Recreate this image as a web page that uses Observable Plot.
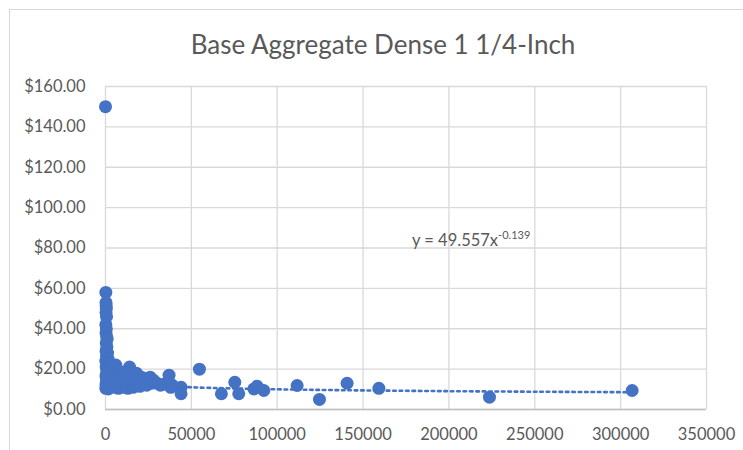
<!DOCTYPE html>
<html>
<head>
<meta charset="utf-8">
<script src="https://cdn.jsdelivr.net/npm/d3@7"></script>
<script src="https://cdn.jsdelivr.net/npm/@observablehq/plot@0.6"></script>
<style>
  html, body { margin: 0; padding: 0; background: #fff; }
  #wrap { position: relative; width: 743px; height: 450px; overflow: hidden; font-family: Lato, "Open Sans", sans-serif; }
  #frame { position: absolute; left: 9px; top: 9px; width: 745px; height: 470px; border: 1.5px solid #d9d9d9; box-sizing: border-box; }
  #title { position: absolute; left: 0; width: 766px; top: 28px; text-align: center; font-size: 26px; color: #595959; line-height: 32px; }
  #chart { position: absolute; left: 0; top: 0; }
</style>
</head>
<body>
<div id="wrap">
  <div id="frame"></div>
  <div id="chart"></div>
  <div id="title">Base Aggregate Dense 1 1/4-Inch</div>
</div>
<script>
const title = "Base Aggregate Dense 1 1/4-Inch";
// quantity (x) and unit price (y)
const quantity = [
  0, 200, 300, 400, 500, 300, 600, 200, 500, 300, 700, 1000, 400, 800, 300, 1200, 600, 1500, 200, 900,
  1800, 400, 1100, 2000, 700, 1500, 300, 2200, 1000, 600, 1700, 300, 1300, 2400, 800, 200, 1600,
  3000, 3500, 4000, 4500, 5000, 5500, 6000, 6500, 7000, 7500, 8000, 8500, 9000, 9500, 10000, 10500, 11000,
  12000, 12500, 13000, 14000, 14500, 15000, 15500, 16000, 17000, 17500, 18000, 19000, 20000, 21000, 22000,
  23000, 24000, 25000, 26000, 27000, 28000, 30000, 32000, 34000, 36000, 37000, 38000, 39000, 44000, 44000,
  54700, 67500, 75300, 77600, 86400, 88300, 92200, 111600, 124600, 140700, 159200, 223600, 306700
];
const price = [
  150, 58, 53, 51.5, 50, 48, 46, 42, 40, 38, 36, 35, 33, 31, 29, 28, 26.5, 25, 24, 23,
  22.5, 21, 20, 19.5, 18.5, 17.5, 16.5, 16, 15, 14, 13.5, 12.5, 12, 11.5, 11, 10.5, 10.2,
  14, 18, 12, 20, 16, 11, 22, 13, 17, 10.5, 19, 14.5, 12, 16, 11, 18, 14,
  12.5, 16.5, 10.5, 21, 19, 13, 17, 11, 15, 12, 18, 14, 11.5, 16, 13,
  15, 12, 14, 16, 13, 14.5, 13, 12, 12.5, 13, 17, 11, 12, 11, 7.8,
  20, 7.8, 13.5, 7.8, 10.2, 11.5, 9.4, 11.9, 5, 13, 10.5, 6.1, 9.4
];
const xTicks = [0, 50000, 100000, 150000, 200000, 250000, 300000, 350000];
const yTicks = [0, 20, 40, 60, 80, 100, 120, 140, 160];
// power trendline shown on chart: y = 49.557 x^-0.139
const trendA = 49.557, trendB = -0.139;
const trendXs = [500, 1000, 2000, 5000, 10000, 20000, 50000, 100000, 150000, 200000, 250000, 306700];

const points = quantity.map((q, i) => ({q, p: price[i]}));
const trend = trendXs.map(q => ({q, p: trendA * Math.pow(q, trendB)}));

const gray = "#595959";
const fnt = "Lato, 'Open Sans', sans-serif";
const chart = Plot.plot({
  width: 743,
  height: 450,
  marginLeft: 105,
  marginRight: 37,
  marginTop: 86,
  marginBottom: 41,
  style: {fontFamily: fnt, fontSize: "16.5px", color: gray, background: "transparent"},
  x: {domain: [0, 350000], ticks: xTicks, tickFormat: d => String(d), label: null},
  y: {domain: [0, 160], ticks: yTicks, tickFormat: d => "$" + d3.format(".2f")(d), label: null},
  marks: [
    Plot.gridX(xTicks, {stroke: "#d9d9d9", strokeOpacity: 1, strokeWidth: 1.3}),
    Plot.gridY(yTicks, {stroke: "#d9d9d9", strokeOpacity: 1, strokeWidth: 1.3}),
    Plot.ruleY([0], {stroke: "#bfbfbf", strokeWidth: 1.5}),
    Plot.axisX({ticks: xTicks, tickSize: 0, tickPadding: 19, tickFormat: d => String(d), fill: gray, fontSize: 16.5}),
    Plot.axisY({ticks: yTicks, tickSize: 0, tickPadding: 20, tickFormat: d => "$" + d3.format(".2f")(d), fill: gray, fontSize: 16.5}),
    Plot.dot(points, {x: "q", y: "p", r: 6.5, fill: "#4472c4", stroke: "none"}),
    Plot.line(trend, {x: "q", y: "p", curve: "natural", stroke: "#4472c4", strokeWidth: 2.6, strokeDasharray: "2.6,3.8"})
  ]
});
document.getElementById("chart").appendChild(chart);

// trendline label with superscript exponent
const svg = d3.select(chart);
const lbl = svg.append("text")
  .attr("x", 412).attr("y", 246)
  .attr("text-anchor", "start")
  .attr("fill", gray)
  .style("font-family", fnt)
  .style("font-size", "16.5px");
lbl.append("tspan").text("y = " + trendA + "x");
lbl.append("tspan").attr("dy", -7).style("font-size", "11px").text(String(trendB));
</script>
</body>
</html>
